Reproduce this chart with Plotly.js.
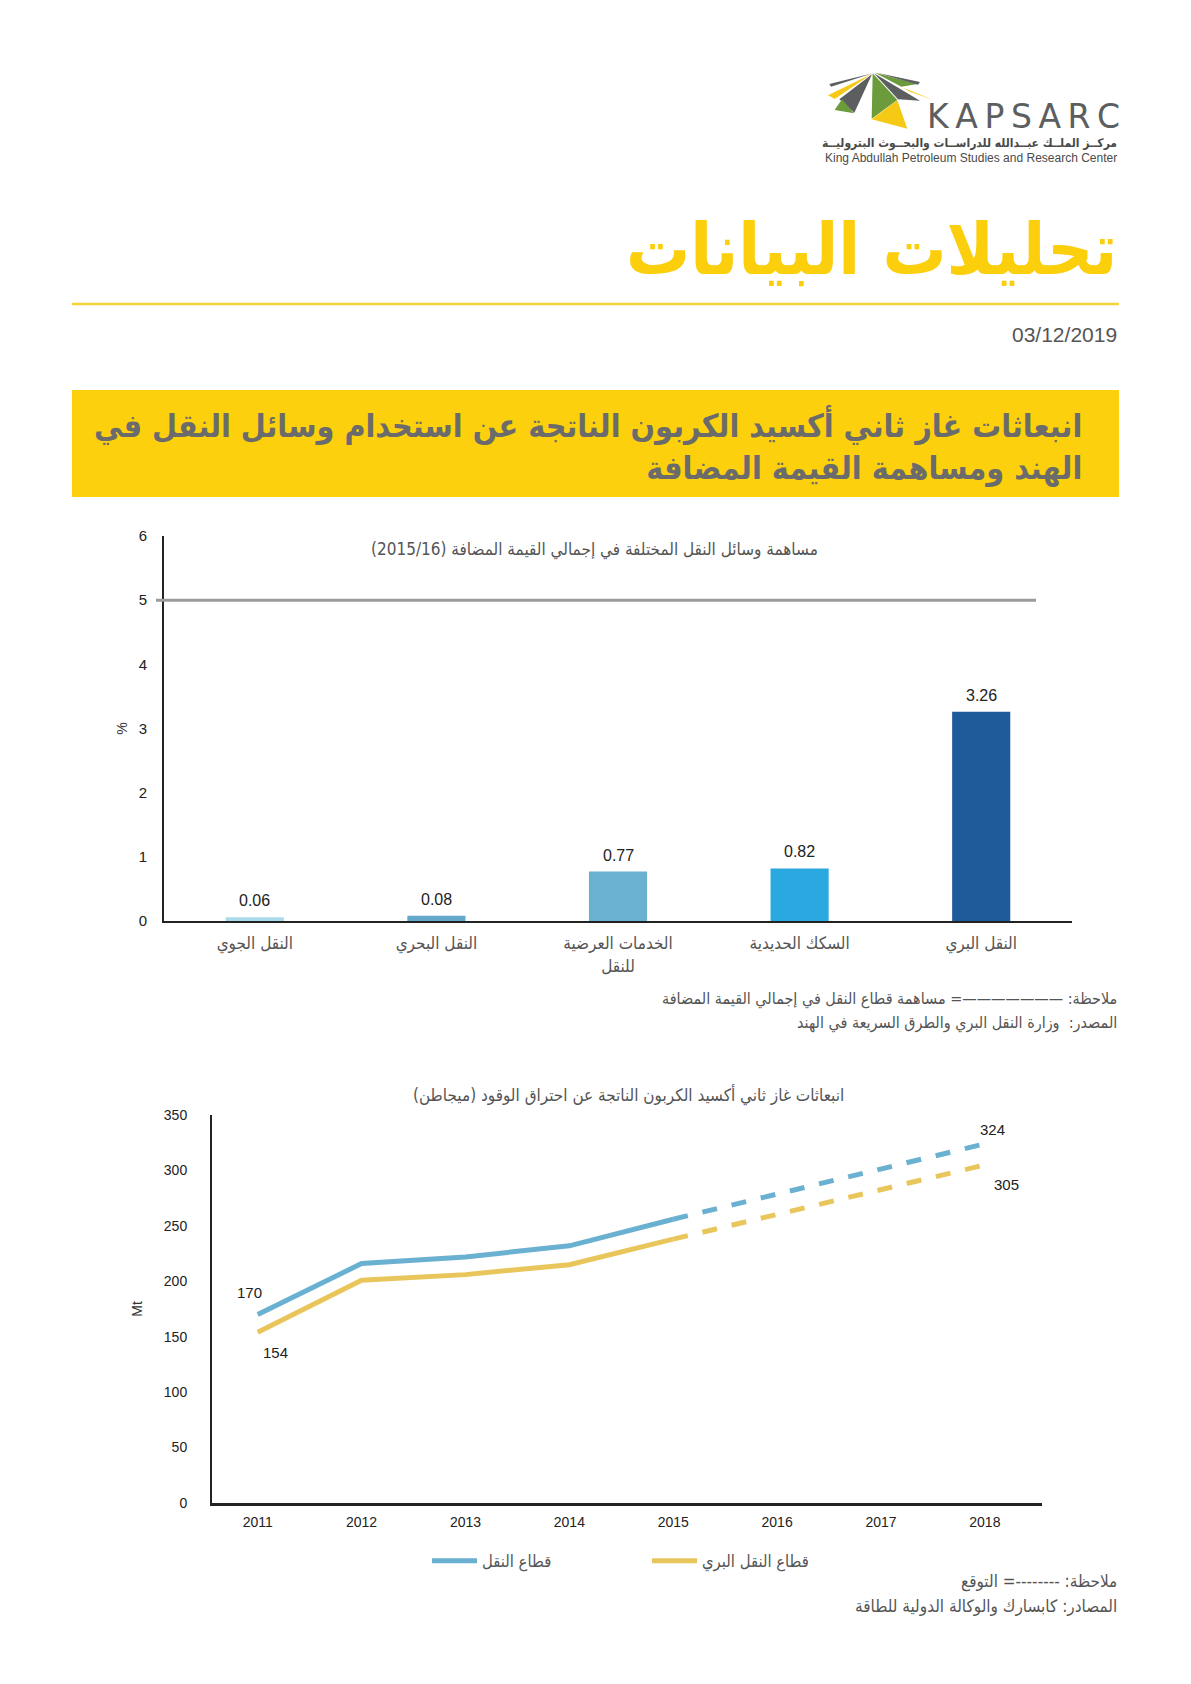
<!DOCTYPE html>
<html>
<head>
<meta charset="utf-8">
<script src="https://cdn.plot.ly/plotly-3.0.1.min.js"></script>
<style>
html,body{margin:0;padding:0;background:#fff;}
#chart{width:1191px;height:1684px;}
</style>
</head>
<body>
<div id="chart"></div>
<script>
// ---------- DATA ----------
const barCategories = ["النقل الجوي", "النقل البحري", "الخدمات العرضية<br>للنقل", "السكك الحديدية", "النقل البري"];
const barValues = [0.06, 0.08, 0.77, 0.82, 3.26];
const barColors = ["#a9dcea", "#64a8cc", "#6ab0d0", "#2aa8e0", "#1f5b9b"];
const transportShare = 5;

const years = [2011, 2012, 2013, 2014, 2015, 2016, 2017, 2018];
const transportSector = [170, 216, 222, 232, 256, 279, 301, 324];
const roadTransport = [154, 201, 206, 215, 238, 260, 283, 305];
const lastActualIndex = 4; // 2015

const W = 1191, H = 1684;
const px = x => x / W;
const py = y => 1 - y / H;
const arFont = "DejaVu Sans Condensed, DejaVu Sans, sans-serif";
const enFont = "Liberation Sans, Arial, sans-serif";

const blue = "#6ab0d0", yellow = "#e8c65c";

const traces = [
  {
    type: "bar", x: barCategories, y: barValues, xaxis: "x", yaxis: "y",
    marker: {color: barColors}, width: 0.32,
    showlegend: false, hoverinfo: "skip"
  },
  {
    type: "scatter", mode: "lines", name: "قطاع النقل",
    x: years.slice(0, lastActualIndex + 1), y: transportSector.slice(0, lastActualIndex + 1),
    xaxis: "x2", yaxis: "y2", line: {color: blue, width: 5}
  },
  {
    type: "scatter", mode: "lines", name: "قطاع النقل البري",
    x: years.slice(0, lastActualIndex + 1), y: roadTransport.slice(0, lastActualIndex + 1),
    xaxis: "x2", yaxis: "y2", line: {color: yellow, width: 5}
  },
  {
    type: "scatter", mode: "lines", showlegend: false,
    x: years.slice(lastActualIndex), y: transportSector.slice(lastActualIndex),
    xaxis: "x2", yaxis: "y2", line: {color: blue, width: 5, dash: "dash"}
  },
  {
    type: "scatter", mode: "lines", showlegend: false,
    x: years.slice(lastActualIndex), y: roadTransport.slice(lastActualIndex),
    xaxis: "x2", yaxis: "y2", line: {color: yellow, width: 5, dash: "dash"}
  }
];

// logo polygons (defined in a local 3x grid anchored at page point 820,60)
function poly(pts, color) {
  return {
    type: "path", xref: "paper", yref: "paper", layer: "above",
    path: "M " + pts.map(p => px(820 + p[0] / 3).toFixed(5) + " " + py(60 + p[1] / 3).toFixed(5)).join(" L ") + " Z",
    fillcolor: color, line: {width: 0}
  };
}
const lgGray = "#5d5e60", lgGreen = "#6b9b3a", lgYellow = "#f5c914";

const shapes = [
  poly([[28,72],[33,80],[158,40]], lgGray),
  poly([[24,106],[44,117],[155,42]], lgYellow),
  poly([[58,118],[103,158],[156,43]], lgGray),
  poly([[44,150],[66,118],[102,160]], lgGreen),
  poly([[158,40],[155,176],[232,120]], lgGreen),
  poly([[155,178],[232,121],[262,206]], lgYellow),
  poly([[162,40],[234,118],[300,122]], lgGray),
  poly([[252,84],[340,120],[266,94]], lgYellow),
  poly([[165,38],[292,72],[244,80]], lgGreen),
  poly([[170,38],[300,66],[294,74]], lgGray),
  // yellow rule under title
  {type: "line", xref: "paper", yref: "paper", x0: px(72), x1: px(1119), y0: py(304), y1: py(304), line: {color: "#f6d23a", width: 2.5}},
  // yellow title box
  {type: "rect", xref: "paper", yref: "paper", x0: px(72), x1: px(1119), y0: py(390), y1: py(497), fillcolor: "#fcd00d", line: {width: 0}, layer: "below"},
  // transport share line at 5
  {type: "line", xref: "paper", yref: "y", x0: px(156), x1: px(1036), y0: transportShare, y1: transportShare, line: {color: "#9b9b9b", width: 3}}
];

const note = (y, text, size) => ({xref: "paper", yref: "paper", x: px(1119), y: py(y), xanchor: "right", yanchor: "middle",
  showarrow: false, text: text, font: {family: arFont, size: size, color: "#555"}});

const annotations = [
  {xref: "paper", yref: "paper", x: px(925), y: py(116), xanchor: "left", yanchor: "middle", showarrow: false,
   text: "K\u2009A\u2009P\u2009S\u2009A\u2009R\u2009C", font: {family: "DejaVu Sans, sans-serif", size: 33, color: "#5d5e60"}},
  {xref: "paper", yref: "paper", x: px(1119), y: py(144), xanchor: "right", yanchor: "middle", showarrow: false,
   text: "<b>مركــز الملــك عبــدالله للدراســات والبحــوث البتروليــة</b>", font: {family: arFont, size: 12, color: "#4a4a4a"}},
  {xref: "paper", yref: "paper", x: px(1119), y: py(158), xanchor: "right", yanchor: "middle", showarrow: false,
   text: "King Abdullah Petroleum Studies and Research Center", font: {family: enFont, size: 12, color: "#4a4a4a"}},
  {xref: "paper", yref: "paper", x: px(1119), y: py(249), xanchor: "right", yanchor: "middle", showarrow: false,
   text: "<b>تحليلات البيانات</b>", font: {family: arFont, size: 71, color: "#fccf0c"}},
  {xref: "paper", yref: "paper", x: px(1119), y: py(335), xanchor: "right", yanchor: "middle", showarrow: false,
   text: "03/12/2019", font: {family: enFont, size: 21, color: "#555"}},
  {xref: "paper", yref: "paper", x: px(1084), y: py(446), xanchor: "right", yanchor: "middle", showarrow: false, align: "right",
   text: "<b>انبعاثات غاز ثاني أكسيد الكربون الناتجة عن استخدام وسائل النقل في<br>الهند ومساهمة القيمة المضافة</b>",
   font: {family: arFont, size: 32, color: "#6b6b6b"}},
  {xref: "paper", yref: "paper", x: px(594), y: py(549), xanchor: "center", yanchor: "middle", showarrow: false,
   text: "مساهمة وسائل النقل المختلفة في إجمالي القيمة المضافة (2015/16)", font: {family: arFont, size: 17, color: "#555"}},
  note(999, "ملاحظة: ———————= مساهمة قطاع النقل في إجمالي القيمة المضافة", 16),
  note(1023, "المصدر:  وزارة النقل البري والطرق السريعة في الهند", 16),
  {xref: "paper", yref: "paper", x: px(628), y: py(1095), xanchor: "center", yanchor: "middle", showarrow: false,
   text: "انبعاثات غاز ثاني أكسيد الكربون الناتجة عن احتراق الوقود (ميجاطن)", font: {family: arFont, size: 17, color: "#555"}},
  note(1581, "ملاحظة: --------= التوقع", 17),
  note(1606, "المصادر: كابسارك والوكالة الدولية للطاقة", 17),
  // line-chart value labels
  {xref: "x2", yref: "y2", x: years[0], y: transportSector[0], xshift: -8, yshift: 22, showarrow: false,
   text: String(transportSector[0]), font: {family: enFont, size: 15, color: "#222"}},
  {xref: "x2", yref: "y2", x: years[0], y: roadTransport[0], xshift: 18, yshift: -20, showarrow: false,
   text: String(roadTransport[0]), font: {family: enFont, size: 15, color: "#222"}},
  {xref: "x2", yref: "y2", x: years[7], y: transportSector[7], xshift: 8, yshift: 14, showarrow: false,
   text: String(transportSector[7]), font: {family: enFont, size: 15, color: "#222"}},
  {xref: "x2", yref: "y2", x: years[7], y: roadTransport[7], xshift: 22, yshift: -20, showarrow: false,
   text: String(roadTransport[7]), font: {family: enFont, size: 15, color: "#222"}}
];

// bar value labels
barCategories.forEach((c, i) => {
  annotations.push({xref: "x", yref: "y", x: c, y: barValues[i], yanchor: "bottom", yshift: 6, showarrow: false,
    text: barValues[i].toFixed(2), font: {family: enFont, size: 16, color: "#222"}});
});

const layout = {
  width: W, height: H,
  margin: {l: 0, r: 0, t: 0, b: 0, pad: 0},
  paper_bgcolor: "#fff", plot_bgcolor: "rgba(0,0,0,0)",
  font: {family: enFont, color: "#333"},
  showlegend: true,
  legend: {orientation: "h", x: px(427), y: py(1561), xanchor: "left", yanchor: "middle",
           itemwidth: 45, entrywidth: 160, entrywidthmode: "pixels", traceorder: "normal",
           font: {family: arFont, size: 16.5, color: "#555"}, bgcolor: "rgba(0,0,0,0)"},
  xaxis: {domain: [px(164), px(1072)], anchor: "y", type: "category", range: [-0.5, 4.5],
          showline: true, linecolor: "#222", linewidth: 2, ticks: "", showgrid: false, zeroline: false,
          tickfont: {family: arFont, size: 17, color: "#555"}, ticklabelstandoff: 6},
  yaxis: {domain: [py(921), py(536)], anchor: "x", range: [0, 6], dtick: 1,
          showline: true, linecolor: "#222", linewidth: 2, ticks: "", showgrid: false, zeroline: false,
          tickfont: {family: enFont, size: 15, color: "#222"}, ticklabelstandoff: 12,
          title: {text: "%", font: {family: enFont, size: 14, color: "#333"}, standoff: 8}},
  xaxis2: {domain: [px(212), px(1042)], anchor: "y2", range: [2010.56, 2018.55], tickvals: years,
           showline: true, linecolor: "#222", linewidth: 3, ticks: "", showgrid: false, zeroline: false,
           tickfont: {family: enFont, size: 14, color: "#222"}, ticklabelstandoff: 4},
  yaxis2: {domain: [py(1503), py(1115)], anchor: "x2", range: [0, 350], dtick: 50,
           showline: true, linecolor: "#222", linewidth: 2, ticks: "", showgrid: false, zeroline: false,
           tickfont: {family: enFont, size: 14, color: "#222"}, ticklabelstandoff: 20,
           title: {text: "Mt", font: {family: enFont, size: 14, color: "#333"}, standoff: 18}},
  shapes: shapes,
  annotations: annotations
};

Plotly.newPlot("chart", traces, layout, {displayModeBar: false, staticPlot: true});
</script>
</body>
</html>
